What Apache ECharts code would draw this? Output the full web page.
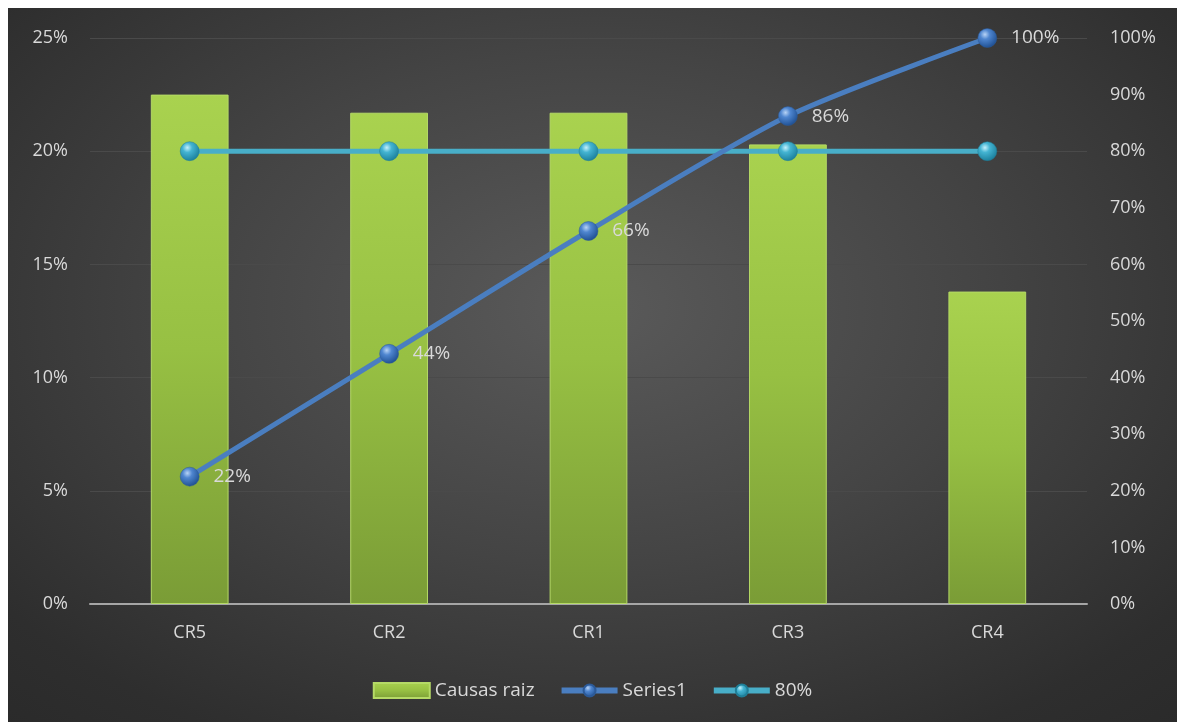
<!DOCTYPE html>
<html><head><meta charset="utf-8">
<script src="https://cdn.jsdelivr.net/npm/echarts@6/dist/echarts.min.js"></script>
<style>
html,body{margin:0;padding:0;background:#fff;}
#c{position:absolute;left:8px;top:8px;width:1169px;height:714px;
background:radial-gradient(ellipse 75% 80% at 50% 42%, #5a5a5a 0%, #444 45%, #2e2e2e 85%, #2a2a2a 100%);}
</style></head><body>
<div id="c"></div>
<script>
const categories = ['CR5','CR2','CR1','CR3','CR4'];
const causasRaiz = [22.5, 21.7, 21.7, 20.3, 13.8];
const series1 = [22.5, 44.2, 65.9, 86.2, 100];
const series1Labels = ['22%','44%','66%','86%','100%'];
const line80 = [80, 80, 80, 80, 80];

const chart = echarts.init(document.getElementById('c'), null, {renderer:'canvas'});
const txt = '#d9d9d9';
const font = 'Open Sans, Liberation Sans, sans-serif';
const blueBall = {type:'radial',x:0.38,y:0.32,r:0.7,colorStops:[{offset:0,color:'#b7d3f5'},{offset:0.35,color:'#4f86d0'},{offset:1,color:'#1e4f92'}]};
const cyanBall = {type:'radial',x:0.38,y:0.32,r:0.7,colorStops:[{offset:0,color:'#c4f0fb'},{offset:0.35,color:'#44b4d2'},{offset:1,color:'#1b7f9c'}]};
chart.setOption({
  backgroundColor:'transparent',
  textStyle:{fontFamily:font},
  grid:{left:82,right:90,top:30,bottom:118,containLabel:false},
  legend:{
    bottom:17, left:'center', itemGap:24, itemWidth:56, itemHeight:15,
    textStyle:{color:txt,fontSize:19,fontFamily:font},
    data:[
      {name:'Causas raiz', icon:'rect'},
      {name:'Series1', lineStyle:{width:6,color:'#4a7ec0'}},
      {name:'80%', lineStyle:{width:6,color:'#48aec8'}}
    ]
  },
  xAxis:{
    type:'category', data:categories,
    axisLine:{lineStyle:{color:'#a6a6a6',width:2}},
    axisTick:{show:false},
    axisLabel:{color:txt,fontSize:18,margin:20,fontFamily:font}
  },
  yAxis:[
    {type:'value',min:0,max:25,interval:5,
     axisLabel:{formatter:'{value}%',color:txt,fontSize:18,margin:22,fontFamily:font},
     splitLine:{lineStyle:{color:'#4a4a4a',width:1}},
     axisLine:{show:false},axisTick:{show:false}},
    {type:'value',min:0,max:100,interval:10,
     axisLabel:{formatter:'{value}%',color:txt,fontSize:18,margin:23,fontFamily:font},
     splitLine:{show:false},axisLine:{show:false},axisTick:{show:false}}
  ],
  series:[
    {name:'Causas raiz',type:'bar',data:causasRaiz,barWidth:'39%',
     itemStyle:{
       color:{type:'linear',x:0,y:0,x2:0,y2:1,colorStops:[{offset:0,color:'#a9d24f'},{offset:0.5,color:'#97c043'},{offset:1,color:'#7a9c36'}]},
       borderColor:'#b5da66',borderWidth:1
     },
     z:2},
    {name:'Series1',type:'line',yAxisIndex:1,data:series1,smooth:0.25,
     lineStyle:{color:'#4a7ec0',width:5},
     symbol:'circle',symbolSize:19,
     itemStyle:{color:blueBall,borderColor:'#2c5a98',borderWidth:0.5},
     label:{show:true,position:'right',distance:14,color:txt,fontSize:19,fontFamily:font,
       formatter:p=>series1Labels[p.dataIndex]},
     z:4},
    {name:'80%',type:'line',yAxisIndex:1,data:line80,
     lineStyle:{color:'#48aec8',width:5},
     symbol:'circle',symbolSize:19,
     itemStyle:{color:cyanBall,borderColor:'#1f7f98',borderWidth:0.5},
     z:3}
  ]
});
</script>
</body></html>
